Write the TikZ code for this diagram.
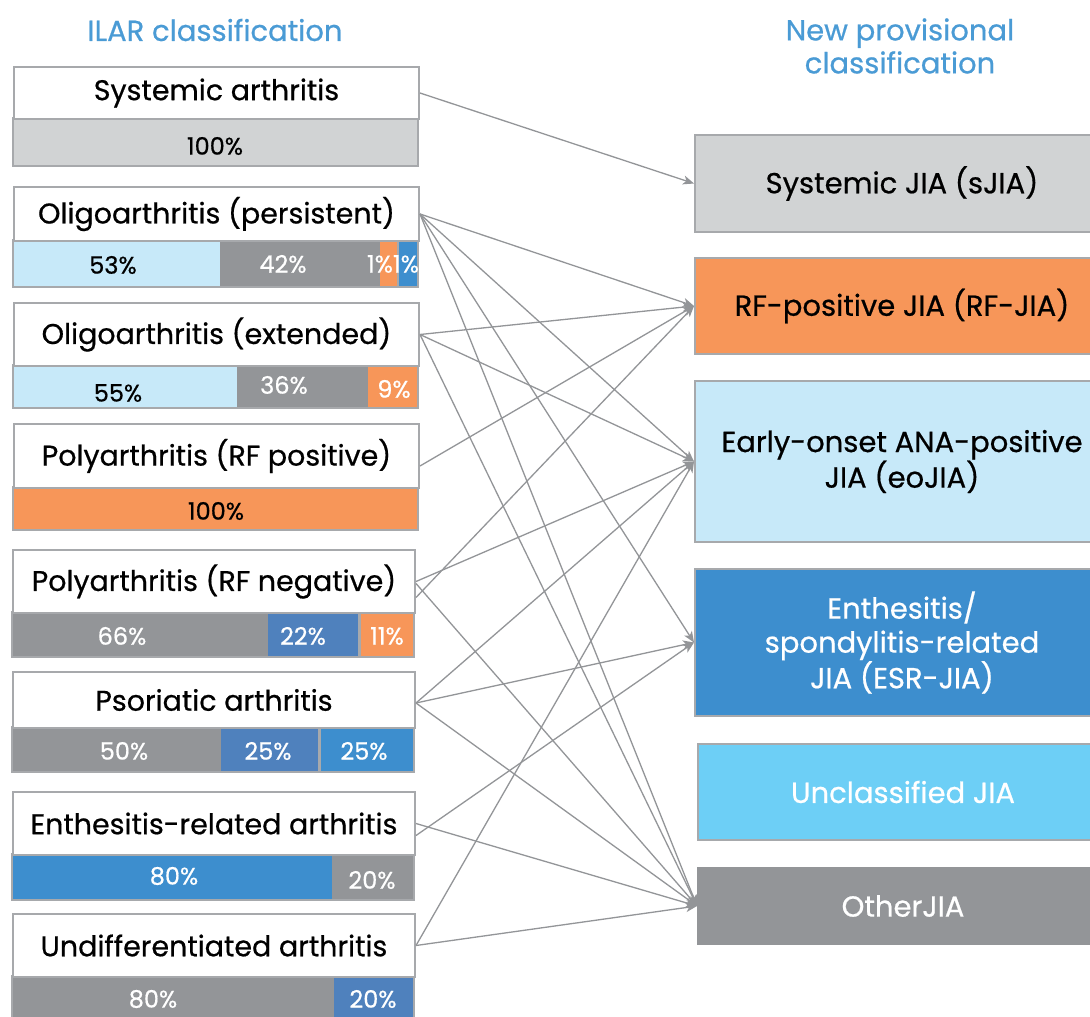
\documentclass[tikz,border=0pt]{standalone}
\usepackage{fontspec}
\setmainfont{Poppins}[FakeBold=0.6]
\usetikzlibrary{arrows.meta,calc}
\definecolor{lgray}{HTML}{D1D3D4}
\definecolor{dgray}{HTML}{939598}
\definecolor{orng}{HTML}{F79659}
\definecolor{lblue}{HTML}{C7E9F9}
\definecolor{mblue}{HTML}{3D8ECE}
\definecolor{steel}{HTML}{4F81BD}
\definecolor{sky}{HTML}{6DCFF6}
\definecolor{bord}{HTML}{A7A9AC}
\definecolor{headblue}{HTML}{4A9BD5}
\definecolor{arrowgray}{HTML}{939598}
\newcommand{\fsz}[1]{\fontsize{#1}{#1}\selectfont}
\begin{document}
\begin{tikzpicture}[x=1pt,y=-1pt,
  tbox/.style={draw=bord, line width=2pt, fill=white, anchor=north west, inner sep=0pt, font=\fsz{28.5}, text=black},
  rbox/.style={draw=bord, line width=2pt, anchor=north west, inner sep=0pt, align=center, font=\fontsize{29}{34}\selectfont},
  head/.style={text=headblue, align=center, font=\fontsize{29}{33}\selectfont},
  pct/.style={font=\fsz{24}, text=white, inner sep=0pt},
  pctb/.style={pct, text=black},
  barline/.style={draw=bord, line width=2pt},
  conn/.style={draw=arrowgray, line width=1.3pt, -{Stealth[length=11pt,width=9pt,inset=3pt]}}
]
\clip (0,0) rectangle (1090,1017);
\fill[white] (0,0) rectangle (1090,1017);

% headers
\node[head] (h1) at (215,30) {ILAR classification};
\node[head] (h2) at (900,46) {New provisional\\classification};

% ---- bars ----
% 1 systemic
\fill[lgray] (13,118) rectangle (418,166);
\draw[barline] (13,118) rectangle (418,166);
\node[pctb] (p1) at (215,146) {100\%};
% 2 persistent
\fill[bord] (13,240) rectangle (418,287);
\fill[lblue] (13,240) rectangle (220,287);
\fill[dgray] (220,240) rectangle (380,287);
\fill[orng] (380,240) rectangle (397,287);
\fill[mblue] (399,240) rectangle (418,287);
\draw[barline] (13,240) rectangle (418,287);
\node[pctb] (p2a) at (113,265) {53\%};
\node[pct] (p2b) at (283,264) {42\%};
\node[pct] (p2c) at (380,264) {1\%};
\node[pct] (p2d) at (406,264) {1\%};
% 3 extended
\fill[lblue] (13,365) rectangle (237,408);
\fill[dgray] (237,365) rectangle (368,408);
\fill[orng] (368,365) rectangle (418,408);
\draw[barline] (13,365) rectangle (418,408);
\node[pctb] (p3a) at (118,393) {55\%};
\node[pct] (p3b) at (284,385) {36\%};
\node[pct] (p3c) at (394,389) {9\%};
% 4 RF positive
\fill[orng] (13,487) rectangle (418,530);
\draw[barline] (13,487) rectangle (418,530);
\node[pctb] (p4) at (216,511) {100\%};
% 5 RF negative
\fill[bord] (12,612) rectangle (414,657);
\fill[dgray] (12,612) rectangle (268,657);
\fill[steel] (268,612) rectangle (358,657);
\fill[orng] (361,612) rectangle (414,657);
\draw[barline] (12,612) rectangle (414,657);
\node[pct] (p5a) at (122,636) {66\%};
\node[pct] (p5b) at (303,636) {22\%};
\node[pct] (p5c) at (387,636) {11\%};
% 6 psoriatic
\fill[bord] (12,727) rectangle (414,772);
\fill[dgray] (12,727) rectangle (221,772);
\fill[steel] (221,727) rectangle (318,772);
\fill[mblue] (321,727) rectangle (414,772);
\draw[barline] (12,727) rectangle (414,772);
\node[pct] (p6a) at (124,751) {50\%};
\node[pct] (p6b) at (268,751) {25\%};
\node[pct] (p6c) at (364,751) {25\%};
% 7 ERA
\fill[mblue] (13,854) rectangle (332,900);
\fill[dgray] (332,854) rectangle (414,900);
\draw[barline] (12,854) rectangle (414,900);
\node[pct] (p7a) at (174,876) {80\%};
\node[pct] (p7b) at (372,880) {20\%};
% 8 undifferentiated
\fill[dgray] (12,976) rectangle (334,1030);
\fill[steel] (334,976) rectangle (414,1030);
\draw[barline] (12,976) rectangle (414,1030);
\node[pct] (p8a) at (153,999) {80\%};
\node[pct] (p8b) at (373,999) {20\%};

% ---- title boxes ----
\node[tbox, minimum width=405pt, minimum height=52pt] (t1) at (13,66) {Systemic arthritis};
\node[tbox, minimum width=405pt, minimum height=54pt] (t2) at (13,186) {Oligoarthritis (persistent)};
\node[tbox, minimum width=405pt, minimum height=63pt] (t3) at (13,302) {Oligoarthritis (extended)};
\node[tbox, minimum width=405pt, minimum height=64pt] (t4) at (13,423) {Polyarthritis (RF positive)};
\node[tbox, minimum width=402pt, minimum height=63pt] (t5) at (12,549) {Polyarthritis (RF negative)};
\node[tbox, minimum width=402pt, minimum height=56pt] (t6) at (12,671) {Psoriatic arthritis};
\node[tbox, minimum width=402pt, minimum height=63pt] (t7) at (12,791) {Enthesitis-related arthritis};
\node[tbox, minimum width=402pt, minimum height=63pt] (t8) at (12,913) {Undifferentiated arthritis};

% ---- right boxes ----
\node[rbox, fill=lgray, minimum width=414pt, minimum height=97pt] (sj) at (694,134) {Systemic JIA (sJIA)};
\node[rbox, fill=orng, minimum width=414pt, minimum height=96pt] (rf) at (694,257) {RF-positive JIA (RF-JIA)};
\node[rbox, fill=lblue, minimum width=414pt, minimum height=161pt] (eo) at (694,380) {Early-onset ANA-positive\\JIA (eoJIA)};
\node[rbox, fill=mblue, text=white, minimum width=414pt, minimum height=147pt] (esr) at (694,568) {Enthesitis/\\spondylitis-related\\JIA (ESR-JIA)};
\node[rbox, fill=sky, text=white, minimum width=410pt, minimum height=96pt] (un) at (697,743) {Unclassified JIA};
\node[rbox, fill=dgray, draw=dgray, text=white, minimum width=410pt, minimum height=76pt] (oth) at (697,867) {OtherJIA};

% ---- connectors ----
\draw[conn] (t1.east) -- (sj.west);
\draw[conn] (t2.east) -- (rf.west);
\draw[conn] (t2.east) -- (eo.west);
\draw[conn] (t2.east) -- (esr.west);
\draw[conn] (t2.east) -- (oth.west);
\draw[conn] (t3.east) -- (rf.west);
\draw[conn] (t3.east) -- (eo.west);
\draw[conn] (t3.east) -- (oth.west);
\draw[conn] ([yshift=-10pt]t4.east) -- (rf.west);
\draw[conn] ([yshift=-16pt]t5.east) -- (rf.west);
\draw[conn] (t5.east) -- (eo.west);
\draw[conn] ([yshift=-2pt]t5.east) -- (oth.west);
\draw[conn] ([yshift=-3pt]t6.east) -- (eo.west);
\draw[conn] ([yshift=-3pt]t6.east) -- (esr.west);
\draw[conn] ([yshift=-3pt]t6.east) -- (oth.west);
\draw[conn] ([yshift=-12pt]t7.east) -- (esr.west);
\draw[conn] (t7.east) -- (oth.west);
\draw[conn] (t8.east) -- (eo.west);
\draw[conn] (t8.east) -- (oth.west);
\end{tikzpicture}
\end{document}
